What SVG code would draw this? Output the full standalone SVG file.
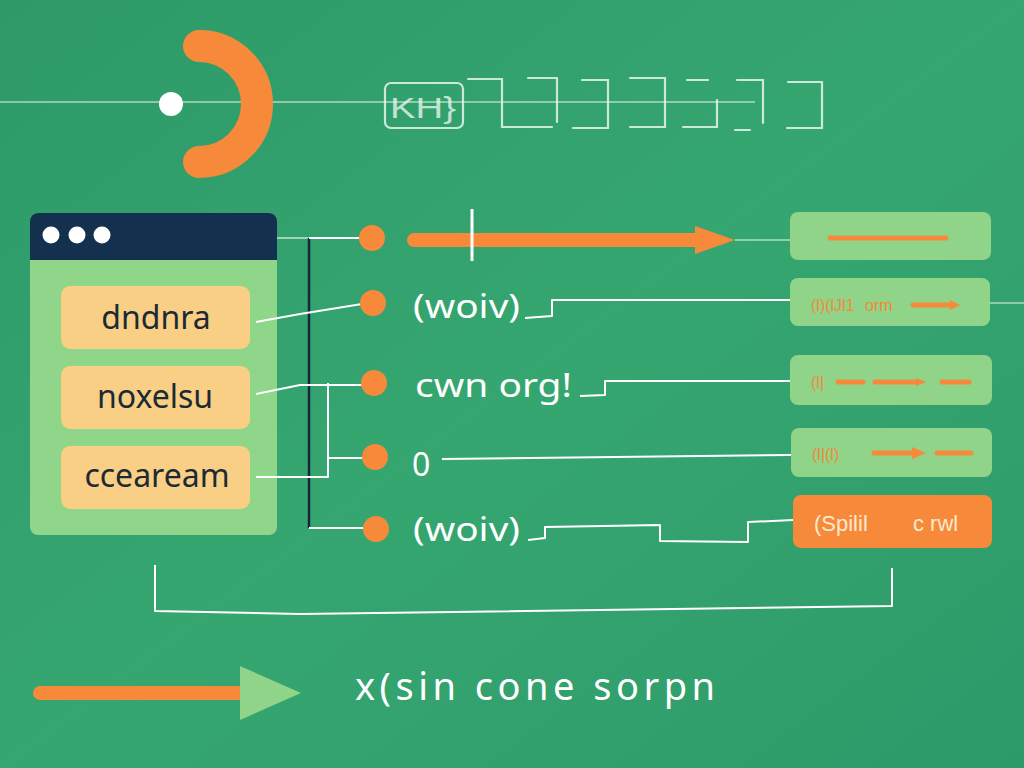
<svg xmlns="http://www.w3.org/2000/svg" width="1024" height="768" viewBox="0 0 1024 768">
<style>
.wire{fill:none;stroke:#ffffff;stroke-width:2;stroke-linejoin:round}
.thin{fill:none;stroke:#e8f5ee;stroke-width:1.2}
.glyph{fill:none;stroke:#e6f4ec;stroke-width:2.2;opacity:0.85;stroke-linecap:round}
.dot{fill:#f6893a}
.ybox{fill:#f8cf84}
.ytxt{font-family:"Noto Sans","Liberation Sans",sans-serif;font-size:32px;fill:#1c2a33;text-anchor:middle}
.lbl{font-family:"Noto Sans","Liberation Sans",sans-serif;font-size:32px;fill:#ffffff}
.gbox{fill:#8fd488}
.otxt{font-family:"Liberation Sans Narrow","Liberation Sans",sans-serif;font-size:16px;fill:#f6893a}
.oline{stroke:#f6893a;stroke-width:5;stroke-linecap:round}
</style>
<defs>
<linearGradient id="bg" x1="0" y1="0" x2="1" y2="1">
<stop offset="0" stop-color="#2d9a68"/>
<stop offset="0.5" stop-color="#36a671"/>
<stop offset="1" stop-color="#2d9b69"/>
</linearGradient>
</defs>
<rect width="1024" height="768" fill="url(#bg)"/>

<g id="header">
<line x1="0" y1="102" x2="755" y2="102" class="thin"/>
<circle cx="171" cy="104" r="12" fill="#ffffff"/>
<path d="M199 46 A58 58 0 0 1 199 162" fill="none" stroke="#f6893a" stroke-width="32" stroke-linecap="round"/>
<rect x="385" y="83" width="78" height="45" rx="6" class="glyph"/>
<text x="390" y="118" font-family="Liberation Sans Narrow,Liberation Sans,sans-serif" font-size="30" fill="#e6f4ec" opacity="0.8" textLength="66" lengthAdjust="spacingAndGlyphs">KH}</text>
<path class="glyph" d="M468 79H502V127H552"/>
<path class="glyph" d="M528 78H557V122"/>
<path class="glyph" d="M582 80H608V128H573"/>
<path class="glyph" d="M630 78H665V127H630"/>
<path class="glyph" d="M687 80H708M717 100V127H683"/>
<path class="glyph" d="M737 80H763V123M735 130H750"/>
<path class="glyph" d="M788 82H822V128H787"/>
</g>

<g id="window">
<rect x="30" y="213" width="247" height="322" rx="8" fill="#8fd68a"/>
<path d="M38 213H269A8 8 0 0 1 277 221V260H30V221A8 8 0 0 1 38 213Z" fill="#14304f"/>
<circle cx="51" cy="235" r="8.5" fill="#fff"/>
<circle cx="77" cy="235" r="8.5" fill="#fff"/>
<circle cx="102" cy="235" r="8.5" fill="#fff"/>
</g>
<g id="item1"><rect class="ybox" x="61" y="286" width="189" height="63" rx="9"/><text class="ytxt" x="156" y="329">dndnra</text></g>
<g id="item2"><rect class="ybox" x="61" y="366" width="189" height="63" rx="9"/><text class="ytxt" x="155" y="408">noxelsu</text></g>
<g id="item3"><rect class="ybox" x="61" y="446" width="189" height="63" rx="9"/><text class="ytxt" x="157" y="487">cceaream</text></g>

<g id="connectors">
<line x1="277" y1="238" x2="309" y2="238" class="thin" stroke="#e9e8a0"/>
<line x1="309" y1="238" x2="309" y2="528" stroke="#15273a" stroke-width="2.5"/>
<path class="wire" d="M309 238H362"/>
<path class="wire" d="M256 322L300 314L362 304"/>
<path class="wire" d="M256 394L300 385H362"/>
<path class="wire" d="M256 477H328V383"/>
<path class="wire" d="M328 458H362"/>
<path class="wire" d="M309 528H363"/>
<path class="wire" d="M525 318L552 316V300H790"/>
<path class="wire" d="M580 396L605 395V381H790"/>
<path class="wire" d="M442 459L791 455"/>
<path class="wire" d="M528 540L545 538V527L660 525V541L748 542V522L793 520"/>
<line x1="735" y1="240" x2="790" y2="240" class="thin"/>
<line x1="990" y1="303" x2="1024" y2="303" class="thin"/>
<path class="wire" d="M155 565V611L300 614L892 606V568"/>
</g>

<g id="dots">
<circle class="dot" cx="372" cy="238" r="13"/>
<circle class="dot" cx="373" cy="303" r="13"/>
<circle class="dot" cx="374" cy="383" r="13"/>
<circle class="dot" cx="375" cy="457" r="13"/>
<circle class="dot" cx="376" cy="529" r="13"/>
</g>

<g id="flow-arrow">
<line x1="414" y1="240" x2="700" y2="240" stroke="#f6893a" stroke-width="14" stroke-linecap="round"/>
<polygon points="695,226 735,240 695,254" fill="#f6893a"/>
<line x1="472" y1="209" x2="472" y2="261" stroke="#ffffff" stroke-width="3"/>
</g>

<g id="labels">
<text class="lbl" x="413" y="318" textLength="107" lengthAdjust="spacingAndGlyphs">(woiv)</text>
<text class="lbl" x="415" y="397" textLength="157" lengthAdjust="spacingAndGlyphs">cwn org!</text>
<text class="lbl" x="412" y="476" font-size="34">0</text>
<text class="lbl" x="413" y="541" textLength="107" lengthAdjust="spacingAndGlyphs">(woiv)</text>
</g>

<g id="out1"><rect class="gbox" x="790" y="212" width="201" height="48" rx="8"/><line class="oline" x1="830" y1="238" x2="946" y2="238" stroke-width="8"/></g>
<g id="out2"><rect class="gbox" x="790" y="278" width="200" height="48" rx="8"/><text class="otxt" x="811" y="311">(l)(lJl1</text><text class="otxt" x="865" y="311">orm</text><line class="oline" x1="913" y1="305" x2="952" y2="305"/><polygon points="950,300 960,305 950,310" fill="#f6893a"/></g>
<g id="out3"><rect class="gbox" x="790" y="355" width="202" height="50" rx="8"/><text class="otxt" x="811" y="388">(l|</text><line class="oline" x1="838" y1="382" x2="864" y2="382" stroke-dasharray="4 3"/><line class="oline" x1="875" y1="382" x2="918" y2="382"/><polygon points="916,378 926,382 916,386" fill="#f6893a"/><line class="oline" x1="942" y1="382" x2="969" y2="382"/></g>
<g id="out4"><rect class="gbox" x="791" y="428" width="201" height="49" rx="8"/><text class="otxt" x="812" y="460">(l|(l)</text><line class="oline" x1="874" y1="453" x2="914" y2="453"/><polygon points="912,447 926,453 912,459" fill="#f6893a"/><line class="oline" x1="937" y1="453" x2="971" y2="453"/></g>
<g id="out5"><rect x="793" y="495" width="199" height="53" rx="8" fill="#f6893a"/><text x="814" y="531" font-family="Liberation Sans Narrow,Liberation Sans,sans-serif" font-size="22" fill="#fbe9cf">(Spilil</text><text x="913" y="531" font-family="Liberation Sans Narrow,Liberation Sans,sans-serif" font-size="22" fill="#fbe9cf">c rwl</text></g>

<g id="legend">
<line x1="40" y1="693" x2="240" y2="693" stroke="#f6893a" stroke-width="14" stroke-linecap="round"/>
<polygon points="240,666 301,693 240,720" fill="#8fd488"/>
<text x="355" y="700" font-family="Noto Sans,Liberation Sans,sans-serif" font-size="38" fill="#ffffff" textLength="360" lengthAdjust="spacing">x(sin cone sorpn</text>
</g>
</svg>
